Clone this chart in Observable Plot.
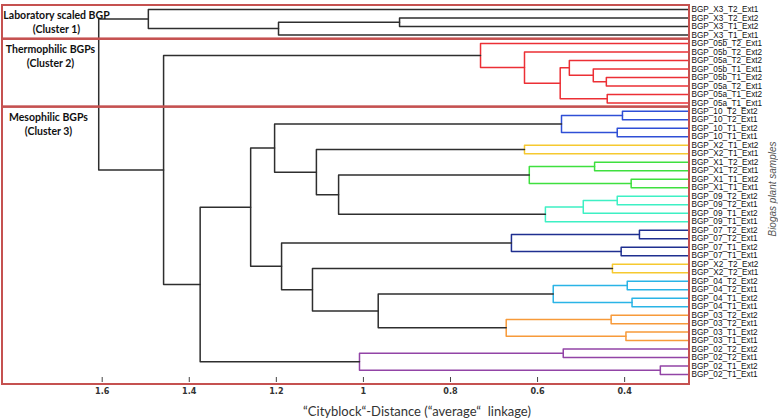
<!DOCTYPE html>
<html><head><meta charset="utf-8">
<script src="https://cdn.jsdelivr.net/npm/d3@7"></script>
<script src="https://cdn.jsdelivr.net/npm/@observablehq/plot@0.6"></script>
<style>body{margin:0;background:#fff}</style>
</head><body><div id="chart"></div>
<script>
// Leaf labels, top to bottom
const leafLabels = [
  "BGP_X3_T2_Ext1","BGP_X3_T2_Ext2","BGP_X3_T1_Ext2","BGP_X3_T1_Ext1",
  "BGP_05b_T2_Ext1","BGP_05b_T2_Ext2","BGP_05a_T2_Ext2","BGP_05b_T1_Ext1",
  "BGP_05b_T1_Ext2","BGP_05a_T2_Ext1","BGP_05a_T1_Ext2","BGP_05a_T1_Ext1",
  "BGP_10_T2_Ext2","BGP_10_T2_Ext1","BGP_10_T1_Ext2","BGP_10_T1_Ext1",
  "BGP_X2_T1_Ext2","BGP_X2_T1_Ext1",
  "BGP_X1_T2_Ext2","BGP_X1_T2_Ext1","BGP_X1_T1_Ext2","BGP_X1_T1_Ext1",
  "BGP_09_T2_Ext2","BGP_09_T2_Ext1","BGP_09_T1_Ext2","BGP_09_T1_Ext1",
  "BGP_07_T2_Ext2","BGP_07_T2_Ext1","BGP_07_T1_Ext2","BGP_07_T1_Ext1",
  "BGP_X2_T2_Ext2","BGP_X2_T2_Ext1",
  "BGP_04_T2_Ext2","BGP_04_T2_Ext1","BGP_04_T1_Ext2","BGP_04_T1_Ext1",
  "BGP_03_T2_Ext2","BGP_03_T2_Ext1","BGP_03_T1_Ext2","BGP_03_T1_Ext1",
  "BGP_02_T2_Ext2","BGP_02_T2_Ext1","BGP_02_T1_Ext2","BGP_02_T1_Ext1"
];

// Merges: [node id, child A, child B, cityblock distance, colour group]
// numbers = leaf index, strings = earlier node
const merges = [
  ["B", 1, 2, 0.917, "k"],
  ["A", "B", 3, 1.195, "k"],
  ["K1", 0, "A", 1.494, "k"],
  ["R7", 8, 9, 0.442, "r"],
  ["R6", 7, "R7", 0.472, "r"],
  ["R4", 6, "R6", 0.527, "r"],
  ["R5", 10, 11, 0.440, "r"],
  ["R3", "R4", "R5", 0.548, "r"],
  ["R2", 5, "R3", 0.630, "r"],
  ["R1", 4, "R2", 0.731, "r"],
  ["B2", 12, 13, 0.405, "b"],
  ["B3", 14, 15, 0.417, "b"],
  ["B1", "B2", "B3", 0.545, "b"],
  ["Y1", 16, 17, 0.630, "y"],
  ["G2", 18, 19, 0.469, "g"],
  ["G3", 20, 21, 0.385, "g"],
  ["G1", "G2", "G3", 0.619, "g"],
  ["C3", 22, 23, 0.417, "c"],
  ["C2", "C3", 24, 0.495, "c"],
  ["C1", "C2", 25, 0.582, "c"],
  ["M5", "G1", "C1", 1.057, "k"],
  ["M4", "Y1", "M5", 1.108, "k"],
  ["M2", "B1", "M4", 1.204, "k"],
  ["N2", 26, 27, 0.366, "n"],
  ["N3", 28, 29, 0.408, "n"],
  ["N1", "N2", "N3", 0.660, "n"],
  ["Y2", 30, 31, 0.428, "y"],
  ["L2", 32, 33, 0.394, "l"],
  ["L3", 34, 35, 0.383, "l"],
  ["L1", "L2", "L3", 0.564, "l"],
  ["O2", 36, 37, 0.431, "o"],
  ["O3", 38, 39, 0.397, "o"],
  ["O1", "O2", "O3", 0.672, "o"],
  ["M7", "L1", "O1", 0.966, "k"],
  ["M6", "Y2", "M7", 1.117, "k"],
  ["M3", "N1", "M6", 1.188, "k"],
  ["M1", "M2", "M3", 1.259, "k"],
  ["P2", 40, 41, 0.541, "p"],
  ["P3", 42, 43, 0.318, "p"],
  ["P1", "P2", "P3", 1.009, "p"],
  ["Q", "M1", "P1", 1.375, "k"],
  ["T", "R1", "Q", 1.459, "k"],
  ["root", "K1", "T", 1.608, "k"]
];

const groupColors = {
  k: "#2e2e2e", r: "#ec2f35", b: "#2f4fd6", y: "#f6c930", g: "#3fe03f",
  c: "#3ef0c4", n: "#1f2f90", l: "#2ab4e6", o: "#f79a3a", p: "#9244a6"
};

const clusterNames = ["Laboratory scaled BGP", "Thermophilic BGPs", "Mesophilic BGPs"];
const clusterTags = ["(Cluster 1)", "(Cluster 2)", "(Cluster 3)"];
const clusterFirst = [0, 4, 12];
const clusterLast = [3, 11, 43];

const xTicks = [1.6, 1.4, 1.2, 1, 0.8, 0.6, 0.4];
const xDomain = [1.829, 0.251];
const yDomain = [-0.47, 44.17];
const xTitle = "\u201CCityblock\u201C-Distance (\u201Caverage\u201C  linkage)";
const yTitle = "Biogas plant samples";

// ---- build segments ----
const pos = new Map();
leafLabels.forEach((l, i) => pos.set(i, {y: i, h: 0}));
const segs = [];
for (const [id, a, b, h, g] of merges) {
  const A = pos.get(a), B = pos.get(b);
  pos.set(id, {y: (A.y + B.y) / 2, h});
  const color = groupColors[g];
  segs.push({id, x: A.h, y: A.y, color}, {id, x: h, y: A.y, color},
            {id, x: h, y: B.y, color}, {id, x: B.h, y: B.y, color});
}
const pad = 0.47;
const clusters = clusterNames.map((name, i) => ({
  name, tag: clusterTags[i],
  y1: clusterFirst[i] - pad,
  y2: clusterLast[i] === leafLabels.length - 1 ? yDomain[1] : clusterLast[i] + pad,
  first: clusterFirst[i]
}));
const labelDx = [54, 48, 46];
const narrow = "'Liberation Sans Narrow', 'Arial Narrow', 'DejaVu Sans Condensed', sans-serif";
const sans = "'Liberation Sans', Arial, sans-serif";

const marks = [
  Plot.line(segs, {x: "x", y: "y", z: "id", stroke: "color", strokeWidth: 1.5, clip: true}),
  Plot.rect(clusters, {y1: "y1", y2: "y2", fill: "none", stroke: "#c55150", strokeWidth: 2}),
  Plot.axisX(xTicks, {anchor: "bottom", tickSize: 5, dy: -7, fill: "none", label: null, stroke: "#444"}),
  Plot.axisX(xTicks, {anchor: "bottom", tickSize: 0, tickPadding: 3, tickFormat: d => String(d), label: null,
    fontSize: 9, fontWeight: "bold", fontFamily: narrow, fill: "#333"}),
  Plot.text(leafLabels, {y: (d, i) => i, frameAnchor: "right", textAnchor: "start", lineAnchor: "middle",
    dx: 2, fontSize: 8.2, fontFamily: sans, fill: "#111"}),
  ...clusters.map((c, i) => Plot.text([c], {
    y: "first", text: d => d.name + "\n" + d.tag, frameAnchor: "left", textAnchor: "middle",
    lineAnchor: "top", lineHeight: 1.3, dx: labelDx[i], dy: 0,
    fontFamily: "Lato, 'Open Sans', sans-serif", fontWeight: "bold", fontSize: 10.5, fill: "#111"
  })),
  Plot.text([yTitle], {frameAnchor: "right", textAnchor: "middle", lineAnchor: "middle", rotate: -90,
    dx: 83, dy: -6, fontStyle: "italic", fontSize: 10, fill: "#555", fontFamily: sans}),
  Plot.text([xTitle], {frameAnchor: "bottom", textAnchor: "middle", lineAnchor: "middle",
    dx: 71, dy: 27, fontSize: 13, fill: "#333", fontFamily: "Lato, 'Open Sans', sans-serif"})
];

const chart = Plot.plot({
  width: 778, height: 419,
  marginLeft: 2, marginRight: 89, marginTop: 5, marginBottom: 35,
  x: {domain: xDomain},
  y: {domain: yDomain, range: [5, 384], axis: null},
  color: {type: "identity"},
  style: {background: "#fff", overflow: "visible"},
  marks
});
document.getElementById("chart").appendChild(chart);
</script>
</body></html>
